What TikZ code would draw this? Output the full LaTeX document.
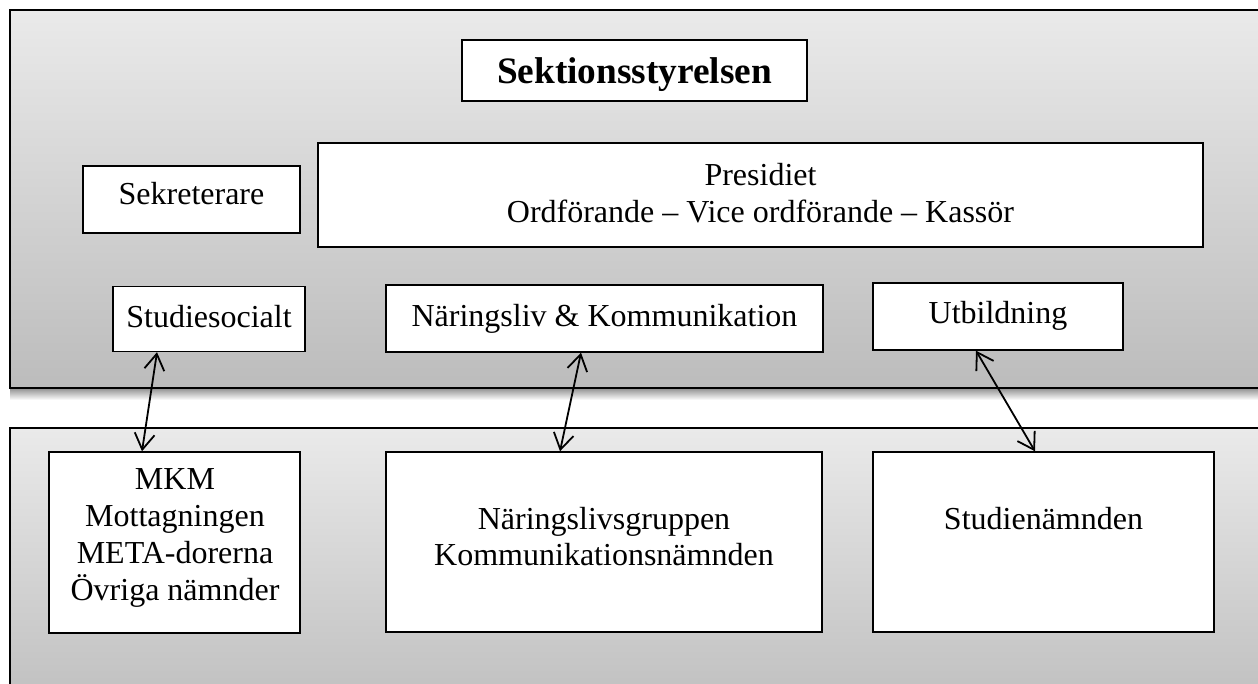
\documentclass[tikz,border=0pt]{standalone}
\usepackage{fontspec}
\setmainfont{Liberation Serif}
\usetikzlibrary{arrows.meta}
\definecolor{panelTop}{RGB}{234,234,234}
\definecolor{panelBot}{RGB}{188,188,188}
\definecolor{panelBotB}{RGB}{192,192,192}
\begin{document}
\begin{tikzpicture}[x=1pt,y=-1pt,
  box/.style={draw=black, fill=white, line width=1.4pt, rectangle, inner sep=0pt},
  txt/.style={inner sep=0pt, align=center, font=\fontsize{32}{36.8}\selectfont},
  titletxt/.style={inner sep=0pt, font=\fontsize{37.3}{43}\selectfont\bfseries},
  panel/.style={draw=black, line width=2pt},
  link/.style={line width=1.8pt, {Straight Barb[length=16pt,width=20pt]}-{Straight Barb[length=16pt,width=20pt]}}]
\useasboundingbox (0,0) rectangle (1258,684);
\clip (0,0) rectangle (1258,684);
\fill[white] (0,0) rectangle (1258,684);
% shadow of top panel
\shade[top color=black!40, bottom color=white] (10,389) rectangle (1275,400);
% panels
\shade[top color=panelTop, bottom color=panelBot] (10,10) rectangle (1275,388);
\draw[panel] (1275,10) -- (10,10) -- (10,388) -- (1275,388);
\shade[top color=panelTop, bottom color=panelBotB] (10,428) rectangle (1275,700);
\draw[panel] (1275,428) -- (10,428) -- (10,700);
% top boxes
\node[box, minimum width=345pt, minimum height=61pt] (styr) at (634.5,70.5) {};
\node[titletxt, anchor=base] (styrt) at (634.5,84) {Sektionsstyrelsen};
\node[box, minimum width=217pt, minimum height=67pt] (sekr) at (191.5,199.5) {};
\node[txt, anchor=base] (sekrt) at (191.5,205) {Sekreterare};
\node[box, minimum width=885pt, minimum height=104pt] (pres) at (760.5,195) {};
\node[txt] (prest) at (760.5,193.5) {Presidiet\\Ordförande – Vice ordförande – Kassör};
\node[box, minimum width=192pt, minimum height=65pt] (stud) at (209,319) {};
\node[txt, anchor=base] (studt) at (209,328) {Studiesocialt};
\node[box, minimum width=437pt, minimum height=67pt] (nari) at (604.5,318.5) {};
\node[txt, anchor=base] (narit) at (604.5,327) {Näringsliv \& Kommunikation};
\node[box, minimum width=250pt, minimum height=67pt] (utb) at (998,316.5) {};
\node[txt, anchor=base] (utbt) at (998,324) {Utbildning};
% bottom boxes
\node[box, minimum width=251pt, minimum height=181pt] (mkm) at (174.5,542.5) {};
\node[txt] (mkmt) at (175,538) {MKM\\Mottagningen\\META-dorerna\\Övriga nämnder};
\node[box, minimum width=436pt, minimum height=180pt] (ngrp) at (604,542) {};
\node[txt] (ngrpt) at (604,536.5) {Näringslivsgruppen\\Kommunikationsnämnden};
\node[box, minimum width=341pt, minimum height=180pt] (snmd) at (1043.5,542) {};
\node[txt, anchor=base] (snmdt) at (1043.5,529) {Studienämnden};
% connectors
\draw[link] ([xshift=-52pt]stud.south) -- ([xshift=-32.5pt]mkm.north);
\draw[link] ([xshift=-23.5pt]nari.south) -- ([xshift=-44pt]ngrp.north);
\draw[link] ([xshift=-22pt]utb.south) -- ([xshift=-8.5pt]snmd.north);
\end{tikzpicture}
\end{document}
